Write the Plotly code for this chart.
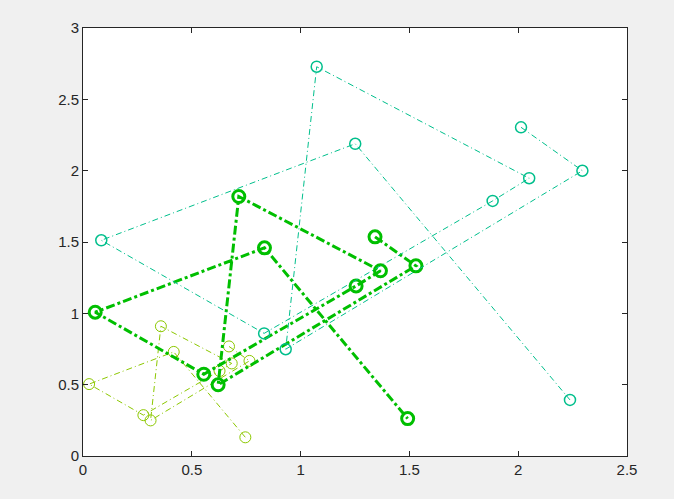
import plotly.graph_objects as go

# Series (path order along each polyline)
x_yellow = [0.671, 0.765, 0.3105, 0.358, 0.6835, 0.6275, 0.2775, 0.028, 0.417, 0.746]
y_yellow = [0.768, 0.6665, 0.2495, 0.9095, 0.649, 0.596, 0.2865, 0.504, 0.7295, 0.131]

x_green = [1.342, 1.530, 0.621, 0.716, 1.367, 1.255, 0.555, 0.056, 0.834, 1.492]
y_green = [1.536, 1.333, 0.499, 1.819, 1.298, 1.192, 0.573, 1.008, 1.459, 0.262]

x_teal = [2.013, 2.295, 0.9315, 1.074, 2.0505, 1.8825, 0.8325, 0.084, 1.251, 2.238]
y_teal = [2.304, 1.9995, 0.7485, 2.7285, 1.947, 1.788, 0.8595, 1.512, 2.1885, 0.393]

x_ticks = [0, 0.5, 1, 1.5, 2, 2.5]
x_tick_labels = ["0", "0.5", "1", "1.5", "2", "2.5"]
y_ticks = [0, 0.5, 1, 1.5, 2, 2.5, 3]
y_tick_labels = ["0", "0.5", "1", "1.5", "2", "2.5", "3"]

fig = go.Figure()

fig.add_trace(go.Scatter(
    x=x_yellow, y=y_yellow, mode="lines+markers",
    line=dict(color="#8CC800", width=1, dash="6px,3px,1px,3px"),
    marker=dict(symbol="circle-open", size=11, color="#8CC800", line=dict(width=1, color="#8CC800")),
    showlegend=False,
))
fig.add_trace(go.Scatter(
    x=x_green, y=y_green, mode="lines+markers",
    line=dict(color="#00BF00", width=3, dash="9px,3px,3px,3px"),
    marker=dict(symbol="circle-open", size=12, color="#00BF00", line=dict(width=3, color="#00BF00")),
    showlegend=False,
))
fig.add_trace(go.Scatter(
    x=x_teal, y=y_teal, mode="lines+markers",
    line=dict(color="#00BF8C", width=1, dash="6px,3px,1px,3px"),
    marker=dict(symbol="circle-open", size=11, color="#00BF8C", line=dict(width=1.5, color="#00BF8C")),
    showlegend=False,
))

axis_common = dict(
    showgrid=False, zeroline=False, showline=True, linecolor="#262626", linewidth=1,
    mirror="ticks", ticks="inside", ticklen=5, tickcolor="#262626", tickwidth=1,
    tickfont=dict(family="Liberation Sans, Arial, sans-serif", size=15, color="#262626"),
)

fig.update_xaxes(range=[0, 2.5], tickvals=x_ticks, ticktext=x_tick_labels, **axis_common)
fig.update_yaxes(range=[0, 3], tickvals=y_ticks, ticktext=y_tick_labels, **axis_common)

fig.update_layout(
    width=674, height=499,
    margin=dict(l=83, r=47, t=28, b=43),
    paper_bgcolor="#F0F0F0", plot_bgcolor="#FFFFFF",
)

fig.write_html(
    "out.html",
    config={"displayModeBar": False},
    post_script="document.body.style.margin='0';document.body.style.overflow='hidden';",
)
